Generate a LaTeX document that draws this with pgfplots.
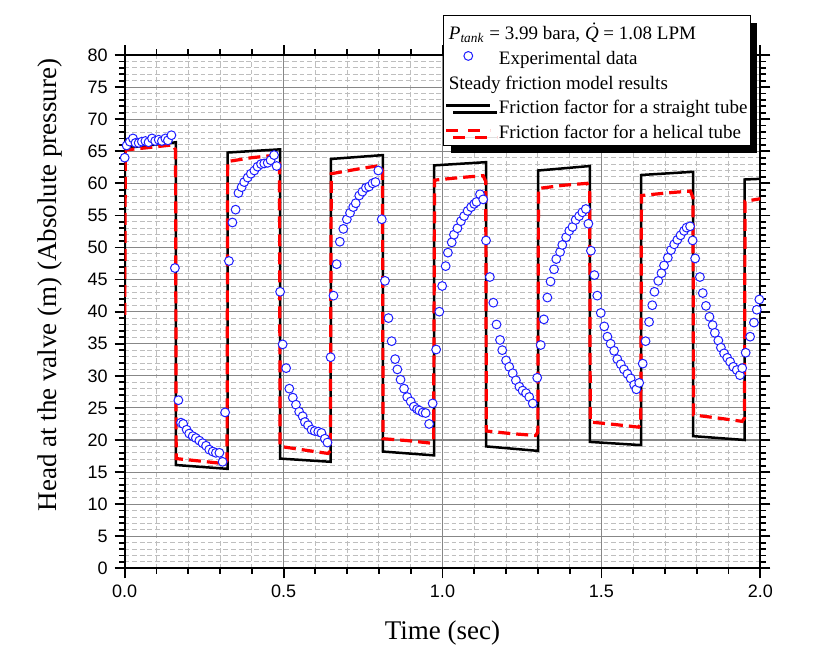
\documentclass[border=0pt]{standalone}
\usepackage{pgfplots}
\pgfplotsset{compat=1.18}
\usepackage{pgfplotstable}
\usepackage{fontspec}
\setmainfont{Liberation Serif}
\newfontfamily\arialfont{Liberation Sans}
\usetikzlibrary{shadows}
\definecolor{expblue}{RGB}{30,30,255}
\definecolor{majgrid}{RGB}{135,135,135}
\definecolor{mingrid}{RGB}{190,190,190}

\pgfplotstableread{
t y
0.000 64.0
0.006 65.9
0.016 66.5
0.026 67.0
0.034 66.3
0.044 66.3
0.054 66.5
0.065 66.6
0.075 66.4
0.086 67.0
0.096 66.6
0.107 66.8
0.117 66.6
0.128 67.0
0.136 66.7
0.147 67.5
0.158 46.8
0.169 26.2
0.177 22.7
0.184 22.5
0.195 21.6
0.203 21.0
0.214 20.6
0.224 20.3
0.235 19.9
0.245 19.5
0.256 19.1
0.266 18.5
0.277 18.2
0.287 18.0
0.298 18.0
0.308 16.6
0.316 24.3
0.328 47.9
0.339 53.9
0.349 55.9
0.358 58.5
0.368 59.4
0.376 60.2
0.387 60.9
0.397 61.5
0.408 62.0
0.418 62.6
0.429 63.0
0.439 63.1
0.450 63.2
0.459 63.6
0.470 64.4
0.478 62.7
0.489 43.1
0.497 34.9
0.508 31.2
0.518 28.0
0.529 26.6
0.539 25.5
0.549 24.4
0.560 23.7
0.567 22.8
0.577 22.3
0.588 21.6
0.598 21.4
0.609 21.3
0.619 21.1
0.630 20.2
0.638 19.6
0.648 32.9
0.657 42.5
0.667 47.4
0.677 50.9
0.688 52.9
0.699 54.4
0.709 55.4
0.719 56.3
0.727 56.9
0.738 58.1
0.748 58.7
0.759 59.3
0.769 59.5
0.780 60.0
0.789 60.2
0.798 62.0
0.809 54.4
0.819 44.8
0.830 39.0
0.840 35.4
0.851 32.6
0.858 31.0
0.868 29.4
0.879 28.0
0.889 26.7
0.900 26.0
0.910 25.2
0.920 24.8
0.927 24.6
0.938 24.3
0.947 24.2
0.958 22.5
0.969 25.7
0.980 34.1
0.990 40.0
0.999 44.0
1.010 47.1
1.017 49.2
1.029 50.8
1.036 52.0
1.047 53.0
1.058 54.1
1.068 54.9
1.079 55.7
1.090 56.3
1.100 56.8
1.107 57.1
1.118 58.3
1.128 57.5
1.137 51.1
1.149 45.4
1.160 41.4
1.170 38.0
1.181 35.6
1.188 34.0
1.200 32.4
1.210 31.4
1.221 30.4
1.231 29.3
1.242 28.3
1.252 27.7
1.263 27.3
1.273 26.7
1.284 25.7
1.298 29.7
1.309 34.8
1.319 38.8
1.330 42.2
1.340 44.7
1.351 46.6
1.358 48.2
1.370 49.3
1.377 50.4
1.389 51.6
1.399 52.6
1.409 53.2
1.419 54.3
1.430 54.9
1.440 55.5
1.451 56.0
1.459 53.7
1.467 49.5
1.478 45.7
1.487 42.5
1.498 39.8
1.509 37.7
1.519 36.1
1.529 35.0
1.540 33.9
1.550 32.6
1.561 31.8
1.571 31.0
1.582 30.3
1.592 29.6
1.603 28.6
1.610 27.9
1.619 28.9
1.630 31.9
1.639 35.4
1.650 38.4
1.660 41.0
1.667 43.1
1.679 44.8
1.689 46.0
1.697 47.2
1.709 48.4
1.719 49.6
1.729 50.5
1.739 51.2
1.749 51.9
1.760 52.6
1.768 53.1
1.779 53.3
1.787 51.1
1.795 48.3
1.810 45.4
1.819 42.9
1.829 40.9
1.840 39.2
1.850 37.9
1.857 36.7
1.868 35.5
1.876 34.4
1.886 33.5
1.896 32.8
1.905 32.2
1.915 31.4
1.926 30.9
1.936 30.1
1.943 31.2
1.954 33.6
1.968 36.1
1.980 38.3
1.989 40.3
1.997 41.9
}\expdata

\pgfplotstableread{
t y
0.000 39.5
0.001 65.5
0.161 66.4
0.161 16.1
0.324 15.5
0.324 64.8
0.489 65.3
0.489 17.1
0.648 16.6
0.649 63.8
0.812 64.4
0.812 18.2
0.974 17.6
0.974 62.8
1.137 63.3
1.137 19.0
1.301 18.3
1.301 62.0
1.464 62.7
1.464 19.7
1.625 19.2
1.625 61.3
1.789 61.8
1.789 20.6
1.951 20.0
1.951 60.6
2.000 60.7
}\straight

\pgfplotstableread{
t y
0.000 39.5
0.002 65.2
0.080 65.6
0.152 66.0
0.160 65.2
0.162 17.1
0.240 16.7
0.315 16.3
0.322 16.8
0.324 63.4
0.400 64.0
0.478 64.4
0.487 63.2
0.489 19.0
0.570 18.4
0.640 17.9
0.647 18.3
0.650 61.5
0.730 62.2
0.805 62.8
0.811 62.0
0.813 20.2
0.890 19.9
0.965 19.5
0.972 19.9
0.975 60.5
1.055 60.9
1.128 61.2
1.136 60.3
1.138 21.4
1.215 21.0
1.293 20.7
1.300 21.2
1.302 59.2
1.380 59.7
1.455 60.0
1.463 59.0
1.465 22.8
1.545 22.4
1.617 22.0
1.624 22.5
1.626 58.1
1.705 58.5
1.780 58.8
1.788 57.8
1.790 23.9
1.870 23.4
1.943 22.9
1.950 23.4
1.952 57.2
2.000 57.6
}\helical

\newcommand{\Qdot}{{\itshape\accent"02D9 Q}}

\begin{document}
\begin{tikzpicture}
\useasboundingbox (-62.35pt,-43.35pt) rectangle (350.15pt,284.15pt);
\begin{axis}[
  at={(0,0)}, anchor=south west,
  scale only axis, width=317.8pt, height=256.65pt,
  xmin=0, xmax=2, ymin=0, ymax=80,
  xtick={0,0.5,1,1.5,2}, minor x tick num=4,
  ytick={0,5,...,80}, minor y tick num=4,
  grid=both,
  major grid style={majgrid, line width=0.55pt},
  minor grid style={mingrid, line width=0.45pt, dash pattern=on 2.4pt off 1.4pt},
  tick align=outside,
  major tick length=5pt, minor tick length=2.8pt,
  every tick/.append style={black, line width=0.9pt},
  axis line style={black, line width=1pt},
  /pgf/number format/assume math mode=true,
  tick label style={font=\arialfont\fontsize{9}{10}\selectfont},
  xticklabel style={/pgf/number format/.cd, fixed, fixed zerofill, precision=1},
  every axis x label/.style={at={(axis description cs:0.5,-0.126)}, anchor=center},
  every axis y label/.style={at={(axis description cs:-0.1175,0.552)}, rotate=90, anchor=center},
  label style={font=\fontsize{13.5}{15}\selectfont},
  xlabel={Time (sec)},
  ylabel={Head at the valve (m) (Absolute pressure)},
  legend image code/.code={\draw[mark repeat=2,mark phase=2,#1] plot coordinates {(0pt,0pt) (11pt,0pt) (22pt,0pt)};},
  legend cell align=left,
  legend style={at={(axis description cs:0.5008,1.0779)}, anchor=north west,
    draw=black, line width=0.7pt, fill=white,
    font=\fontsize{9.5}{11}\selectfont,
    inner xsep=0.5pt, inner ysep=1.5pt,
    column sep=2.5pt, row sep=0pt,
    nodes={inner xsep=1pt, inner ysep=0.6pt, text height=9.8pt, text depth=1.4pt},
    drop shadow={shadow xshift=3.5pt, shadow yshift=-3.5pt, fill=black, opacity=1}},
]
\addlegendimage{empty legend}
\addlegendentry{\hspace{-25pt}\textit{P}\textsubscript{\textit{tank}} = 3.99 bara, \Qdot{} = 1.08 LPM}
\addlegendimage{only marks, mark=*, mark size=2.2pt, mark options={draw=expblue, fill=white, line width=0.5pt}}
\addlegendentry{Experimental data}
\addlegendimage{empty legend}
\addlegendentry{\hspace{-25pt}Steady friction model results}
\addlegendimage{black, line width=1.25pt}
\addlegendentry{Friction factor for a straight tube}
\addlegendimage{red, line width=1.6pt, dash pattern=on 6pt off 5pt}
\addlegendentry{Friction factor for a helical tube}

\addplot[black, line width=1.25pt, forget plot] table[x=t, y=y] {\straight};
\addplot[red, line width=1.6pt, dash pattern=on 6pt off 3pt, forget plot] table[x=t, y=y] {\helical};
\addplot[only marks, mark=*, mark size=2.2pt, mark options={draw=expblue, fill=white, line width=0.5pt}, forget plot] table[x=t, y=y] {\expdata};
\end{axis}
\end{tikzpicture}
\end{document}
